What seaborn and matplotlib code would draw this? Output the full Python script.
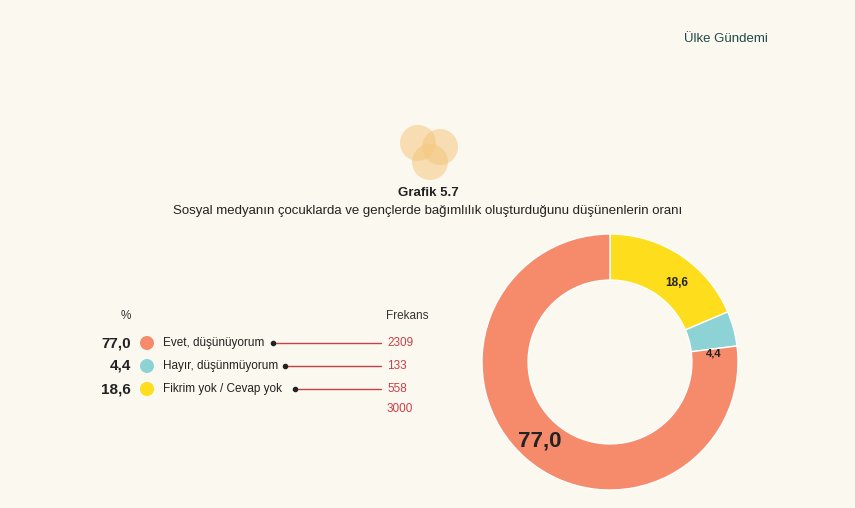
import matplotlib.pyplot as plt
import seaborn as sns
from matplotlib.patches import Circle

labels = ["Evet, düşünüyorum", "Hayır, düşünmüyorum", "Fikrim yok / Cevap yok"]
percents = [77.0, 4.4, 18.6]
freqs = [2309, 133, 558]
total = 3000
colors = ["#f58b6b", "#8dd3d6", "#fddd1c"]
bg = "#fbf8ef"

sns.set_theme(style="white")
plt.rcParams['font.family'] = ['Liberation Sans', 'DejaVu Sans']

W, H = 855, 508
fig = plt.figure(figsize=(W / 100, H / 100), dpi=100, facecolor=bg)

def px(x, y):
    return x / W, 1 - y / H

def ftext(x, y, s, **kw):
    fig.text(*px(x, y), s, **kw)

ftext(768, 39, "Ülke Gündemi", ha="right", va="center", fontsize=9.5, color="#1f4a4a")

# logo
lax = fig.add_axes([0, 0, 1, 1], facecolor="none")
lax.set_xlim(0, W); lax.set_ylim(H, 0); lax.axis("off")
for cx, cy in [(418, 143), (440, 147), (430, 162)]:
    lax.add_patch(Circle((cx, cy), 18, color="#f5c77e", alpha=0.55, lw=0))

ftext(428, 193, "Grafik 5.7", ha="center", va="center", fontsize=9.5, fontweight="bold", color="#222")
ftext(428, 211, "Sosyal medyanın çocuklarda ve gençlerde bağımlılık oluşturduğunu düşünenlerin oranı",
      ha="center", va="center", fontsize=9.5, color="#222")

ftext(126, 316, "%", ha="center", va="center", fontsize=8.5, color="#333")
ftext(407, 316, "Frekans", ha="center", va="center", fontsize=8.5, color="#333")
rows_y = [343, 366, 389]
dot_x = [273, 285, 295]
for y, p, lab, f, c, dx in zip(rows_y, percents, labels, freqs, colors, dot_x):
    ftext(131, y, f"{p:.1f}".replace(".", ","), ha="right", va="center", fontsize=11,
          fontweight="bold", color="#222")
    lax.add_patch(Circle((147, y), 7, color=c, lw=0))
    ftext(163, y, lab, ha="left", va="center", fontsize=8.5, color="#222")
    lax.plot([dx, 381], [y, y], color="#c9404a", lw=1)
    lax.plot(dx, y, "o", color="#222", ms=3)
    ftext(387, y, str(f), ha="left", va="center", fontsize=8.5, color="#c9404a")
ftext(387, 409, str(total), ha="left", va="center", fontsize=8.5, color="#c9404a")

# donut
ax = fig.add_axes([482 / W, 1 - 490 / H, 256 / W, 256 / H])
order = [2, 1, 0]
ax.pie([percents[i] for i in order], colors=[colors[i] for i in order], startangle=90,
       counterclock=False, wedgeprops=dict(width=0.36, edgecolor="white", linewidth=1))
ax.set_xlim(-1, 1); ax.set_ylim(-1, 1)
ax.set_aspect("equal")
ax.text(0.52, 0.62, "18,6", ha="center", va="center", fontsize=8.5, fontweight="bold", color="#222")
ax.text(0.81, 0.07, "4,4", ha="center", va="center", fontsize=8, fontweight="bold", color="#222")
ax.text(-0.55, -0.62, "77,0", ha="center", va="center", fontsize=16, fontweight="bold", color="#222")

fig.savefig("out.png", dpi=100, facecolor=bg)
